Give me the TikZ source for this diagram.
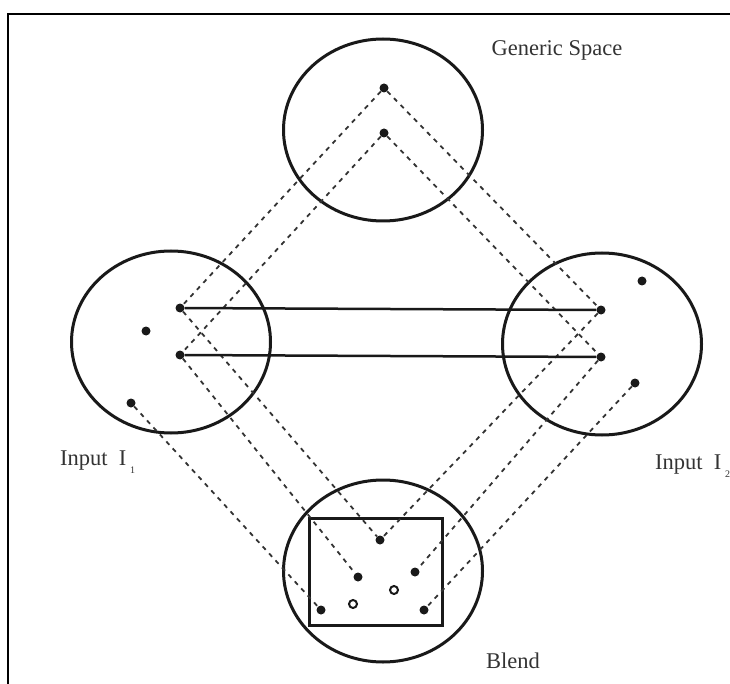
\documentclass[tikz,border=0pt]{standalone}
\usepackage{fontspec}
\setmainfont{Liberation Serif}
\usetikzlibrary{shapes, calc}
\tikzset{%
  % Specifications for style of nodes:
         space/.style = {ellipse, draw=black!90, line width=3pt, inner sep=0pt,
                         minimum width=199pt, minimum height=182pt},
           dot/.style = {circle, fill=black!90, inner sep=0pt, minimum size=9pt},
       opendot/.style = {circle, draw=black!90, fill=white, line width=2pt,
                         inner sep=0pt, minimum size=8pt},
    spacelabel/.style = {text=black!80, inner sep=0pt,
                         font=\fontsize{22.5}{26}\selectfont},
  % Specifications for style of lines:
       mapping/.style = {draw=black!80, line width=1.8pt, dash pattern=on 4.5pt off 5pt},
     crossmap/.style = {draw=black!90, line width=2.5pt},
}

\begin{document}
\begin{tikzpicture}[x=1pt, y=-1pt]
  \useasboundingbox (0,0) rectangle (730,684);
  \clip (0,0) rectangle (730,684);
  % outer frame
  \draw[line width=2.5pt] (8,690) -- (8,14) -- (740,14);

  % Specification of the four spaces
  \node (generic) [space] at (383,130) {};
  \node (inputA)  [space] at (171,342) {};
  \node (inputB)  [space] at (602,344) {};
  \node (blend)   [space] at (383,571) {};
  \node (blendBox) [draw=black!90, line width=3pt, minimum width=133pt,
                    minimum height=107pt, inner sep=0pt] at (376,572) {};

  % elements of each space
  \node (g1) [dot] at (384,88)  {};
  \node (g2) [dot] at (384,133) {};

  \node (a1) [dot] at (180,308) {};
  \node (a2) [dot] at (180,355) {};
  \node (a3) [dot] at (131,403) {};
  \node (a4) [dot] at (146,331) {};

  \node (b1) [dot] at (601,310) {};
  \node (b2) [dot] at (601,357) {};
  \node (b3) [dot] at (635,383) {};
  \node (b4) [dot] at (642,281) {};

  \node (c1) [dot] at (380,540) {};
  \node (c2) [dot] at (358,577) {};
  \node (c3) [dot] at (415,572) {};
  \node (c4) [opendot] at (394,590) {};
  \node (c5) [opendot] at (353,604) {};
  \node (c6) [dot] at (321,610) {};
  \node (c7) [dot] at (424,610) {};

  % Specification of lines between the elements
  \draw[mapping] (g1) -- (a1);
  \draw[mapping] (g2) -- (a2);
  \draw[mapping] (g1) -- (b1);
  \draw[mapping] (g2) -- (b2);

  \draw[mapping] (a1) -- (c1);
  \draw[mapping] (a2) -- (c2);
  \draw[mapping] (a3) -- (c6);
  \draw[mapping] (b1) -- (c1);
  \draw[mapping] (b2) -- (c3);
  \draw[mapping] (b3) -- (c7);

  \draw[crossmap] (a1) -- (b1);
  \draw[crossmap] (a2) -- (b2);

  % names of the spaces
  \node (genericName) [spacelabel] at (557,50) {Generic Space};
  \node (inputAName)  [spacelabel, anchor=west] at (60,462)
                      {Input\enspace I\,\raisebox{-0.8ex}{\fontsize{10}{12}\selectfont 1}};
  \node (inputBName)  [spacelabel, anchor=west] at (655,466)
                      {Input\enspace I\,\raisebox{-0.8ex}{\fontsize{10}{12}\selectfont 2}};
  \node (blendName)   [spacelabel] at (513,661) {Blend};
\end{tikzpicture}
\end{document}
